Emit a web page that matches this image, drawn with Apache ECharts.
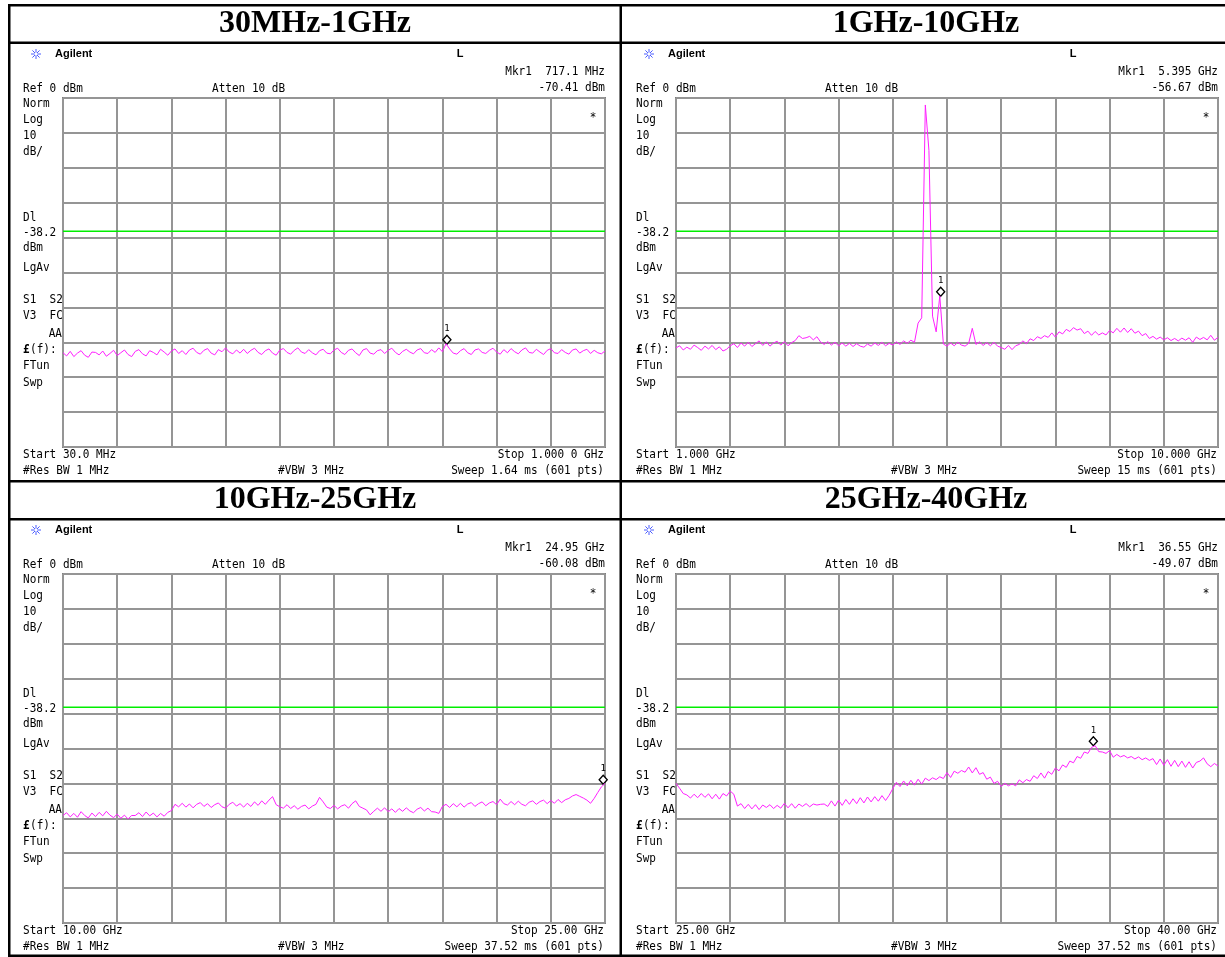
<!DOCTYPE html>
<html><head><meta charset="utf-8">
<script src="https://cdn.jsdelivr.net/npm/echarts@6/dist/echarts.min.js"></script>
<style>html,body{margin:0;padding:0;background:#fff}#c{width:1225px;height:957px}</style>
</head><body><div id="c"></div>
<script>
// ---------- data ----------
const titles = ['30MHz-1GHz', '1GHz-10GHz', '10GHz-25GHz', '25GHz-40GHz'];
const sweepStart = [30, 1, 10, 25];      // MHz for panel 1, GHz otherwise
const sweepStop = [1000, 10, 25, 40];
const markerFreq = [717.1, 5.395, 24.95, 36.55];
const markerLevel = [-70.41, -56.67, -60.08, -49.07];
const displayLine = -38.2;
const mkrLabels = ['Mkr1  717.1 MHz', 'Mkr1  5.395 GHz', 'Mkr1  24.95 GHz', 'Mkr1  36.55 GHz'];
const mkrLevelLabels = ['-70.41 dBm', '-56.67 dBm', '-60.08 dBm', '-49.07 dBm'];
const startLabels = ['Start 30.0 MHz', 'Start 1.000 GHz', 'Start 10.00 GHz', 'Start 25.00 GHz'];
const stopLabels = ['Stop 1.000 0 GHz', 'Stop 10.000 GHz', 'Stop 25.00 GHz', 'Stop 40.00 GHz'];
const sweepLabels = ['Sweep 1.64 ms (601 pts)', 'Sweep 15 ms (601 pts)', 'Sweep 37.52 ms (601 pts)', 'Sweep 37.52 ms (601 pts)'];

const trace1 = [
-73.0,-73.9,-72.6,-74.1,-73.1,-72.4,-73.7,-74.3,-72.8,-72.9,
-73.6,-72.5,-74.0,-73.2,-72.3,-73.8,-73.0,-72.2,-73.5,-74.1,
-72.6,-72.1,-73.3,-73.9,-72.4,-72.9,-73.6,-72.0,-72.8,-73.7,
-72.5,-71.9,-73.2,-72.4,-73.5,-72.2,-71.7,-72.9,-73.4,-72.3,
-71.8,-73.1,-73.6,-72.1,-72.7,-71.6,-72.8,-73.3,-72.2,-73.1,
-72.0,-73.2,-72.3,-71.7,-72.9,-73.5,-72.4,-71.9,-73.1,-73.7,
-72.2,-71.8,-72.9,-73.4,-72.3,-71.6,-72.8,-73.2,-72.1,-73.0,
-73.6,-72.4,-72.0,-73.1,-73.3,-72.2,-71.7,-72.9,-73.5,-72.3,
-71.9,-73.0,-73.8,-72.2,-71.8,-73.1,-73.4,-72.4,-72.1,-73.2,
-72.3,-71.7,-72.9,-73.6,-72.6,-72.0,-72.8,-73.3,-72.2,-71.8,
-73.0,-73.2,-72.1,-72.9,-71.6,-72.7,-70.4,-71.9,-73.1,-73.4,
-72.4,-71.8,-73.0,-73.5,-72.2,-71.9,-72.9,-73.2,-72.3,-71.7,
-72.8,-73.4,-72.1,-73.0,-71.8,-72.7,-73.3,-72.2,-71.6,-72.9,
-73.1,-72.0,-72.8,-73.5,-72.3,-71.8,-73.0,-73.2,-72.1,-72.9,
-73.4,-72.2,-71.9,-73.1,-72.4,-72.0,-73.2,-72.3,-73.0,-73.3,
-72.5];
const trace2 = [
-71.6,-71.0,-72.2,-71.4,-72.0,-70.8,-71.5,-72.3,-71.1,-71.9,
-70.9,-72.1,-71.3,-72.5,-72.0,-71.0,-70.4,-71.5,-70.2,-71.1,
-70.0,-71.2,-70.4,-69.6,-70.9,-69.9,-71.1,-70.2,-69.7,-70.8,
-69.8,-71.0,-70.1,-69.5,-68.1,-68.9,-68.7,-68.3,-69.3,-68.4,
-69.9,-70.6,-69.8,-70.8,-70.0,-71.0,-70.2,-71.1,-70.3,-71.2,
-70.4,-71.1,-71.4,-70.5,-71.1,-70.2,-70.9,-70.0,-71.0,-70.3,
-70.8,-69.9,-70.6,-69.6,-70.3,-69.4,-70.0,-64.5,-63.0,-2.0,
-15.0,-62.5,-67.0,-56.7,-70.5,-71.1,-70.2,-71.0,-70.0,-70.8,
-71.1,-70.3,-66.0,-70.6,-69.9,-70.9,-70.1,-71.0,-70.0,-71.1,
-71.5,-72.0,-70.9,-72.1,-71.0,-70.6,-69.6,-70.4,-69.0,-69.5,
-68.4,-68.9,-68.1,-68.6,-67.3,-68.5,-67.0,-67.6,-66.3,-66.9,
-65.8,-66.5,-66.1,-67.5,-66.8,-68.0,-66.9,-67.9,-67.3,-67.9,
-66.6,-67.3,-66.0,-67.1,-65.9,-67.2,-66.1,-67.4,-66.8,-68.1,
-67.5,-68.9,-68.3,-69.1,-68.5,-69.3,-68.7,-69.5,-68.9,-69.6,
-68.8,-69.4,-68.7,-70.0,-68.5,-69.2,-68.6,-69.3,-68.0,-69.4,
-68.6];
const trace3 = [
-69.2,-68.4,-69.6,-68.6,-69.7,-68.1,-69.2,-69.9,-68.5,-69.5,
-68.3,-69.3,-68.0,-69.1,-69.8,-68.8,-70.0,-69.1,-70.2,-69.2,
-69.2,-68.4,-69.5,-68.2,-69.3,-68.5,-69.6,-68.6,-69.4,-68.3,
-67.8,-66.0,-66.7,-65.7,-66.8,-65.9,-67.0,-66.0,-65.5,-66.6,
-65.8,-66.9,-66.1,-65.6,-66.7,-67.1,-66.0,-65.4,-66.5,-65.8,
-66.8,-65.7,-66.6,-65.3,-66.3,-65.0,-66.0,-64.8,-63.8,-66.1,
-66.7,-67.1,-66.1,-67.2,-66.4,-67.4,-66.6,-66.2,-67.3,-66.5,
-66.0,-64.0,-65.3,-66.8,-67.2,-66.3,-67.3,-66.5,-66.1,-67.1,
-65.8,-65.0,-66.6,-67.1,-67.6,-69.0,-68.0,-67.1,-68.0,-67.0,
-68.1,-67.3,-68.3,-67.2,-68.0,-67.0,-67.9,-68.4,-67.4,-66.9,
-67.9,-67.1,-68.1,-68.2,-68.6,-66.6,-66.0,-66.9,-65.8,-66.7,
-65.7,-66.8,-65.9,-65.5,-66.6,-65.8,-65.3,-66.4,-65.6,-65.2,
-66.1,-64.5,-65.8,-66.2,-65.2,-66.1,-65.1,-66.0,-66.4,-65.4,
-65.0,-66.0,-65.2,-64.8,-65.8,-64.9,-65.7,-64.6,-65.5,-64.7,
-64.3,-63.6,-63.2,-63.7,-64.2,-64.8,-65.7,-64.3,-62.6,-61.0,
-60.0];
const trace4 = [
-60.0,-61.4,-62.9,-63.3,-64.2,-63.1,-64.1,-62.9,-64.0,-63.0,
-64.4,-63.1,-64.5,-62.9,-63.6,-62.2,-63.1,-66.5,-65.8,-67.2,
-66.0,-67.3,-66.1,-67.5,-66.2,-66.9,-66.1,-67.2,-66.3,-67.1,
-65.7,-67.0,-65.8,-67.1,-65.9,-66.6,-65.8,-66.7,-65.9,-66.2,
-66.0,-65.9,-66.6,-65.0,-66.5,-64.8,-66.3,-64.6,-66.0,-64.4,
-65.8,-64.1,-65.6,-63.9,-65.3,-63.8,-65.1,-63.5,-64.9,-63.4,
-61.5,-59.7,-60.9,-59.3,-60.7,-59.1,-60.5,-58.8,-60.2,-58.5,
-59.2,-58.4,-58.9,-58.1,-58.6,-56.9,-58.3,-56.5,-57.1,-56.3,
-56.8,-55.3,-57.0,-55.5,-57.4,-56.9,-58.8,-58.2,-60.0,-59.4,
-60.9,-60.0,-60.7,-60.1,-60.7,-59.0,-59.8,-58.9,-59.4,-57.8,
-58.6,-57.0,-58.5,-56.6,-57.4,-55.6,-56.4,-54.7,-55.4,-53.6,
-54.1,-52.3,-52.8,-51.0,-51.4,-49.7,-49.2,-50.9,-51.0,-51.4,
-50.6,-52.5,-51.7,-52.4,-52.0,-52.7,-52.3,-53.0,-52.4,-53.2,
-52.7,-53.4,-52.9,-54.6,-53.0,-54.8,-53.2,-55.1,-53.4,-55.2,
-53.6,-55.4,-53.8,-55.6,-54.0,-53.6,-52.7,-54.4,-55.2,-54.3,
-55.0];
const traces = [trace1, trace2, trace3, trace4];

// ---------- layout ----------
const PX = [0, 613, 0, 613], PY = [0, 0, 476, 476];
const MONO = '12px "DejaVu Sans Mono", monospace';
const MONO_SX = 0.92;
const grids = [], xAxes = [], yAxes = [], series = [], graphic = [];

function txt(x, y, s, align, font, sx) {
  graphic.push({ type: 'text', x: x, y: y, silent: true, z: 10,
    scaleX: sx === undefined ? (font ? 1 : MONO_SX) : sx,
    style: { text: s, font: font || MONO, fill: '#000', align: align || 'left', verticalAlign: 'middle',
             textAlign: align || 'left', textVerticalAlign: 'middle' } });
}
function bar(x, y, w, h) {
  graphic.push({ type: 'rect', silent: true, z: 10, shape: { x: x, y: y, width: w, height: h }, style: { fill: '#000' } });
}
function star(cx, cy) {
  const r = 5;
  const segs = [[-r, 0, r, 0], [0, -r, 0, r], [-3.6, -3.6, 3.6, 3.6], [-3.6, 3.6, 3.6, -3.6]];
  segs.forEach(s => graphic.push({ type: 'line', silent: true, z: 10,
    shape: { x1: cx + s[0], y1: cy + s[1], x2: cx + s[2], y2: cy + s[3] },
    style: { stroke: '#4a5cff', lineWidth: 1 } }));
  graphic.push({ type: 'circle', silent: true, z: 11, shape: { cx: cx, cy: cy, r: 1.4 }, style: { fill: '#fff' } });
}

for (let k = 0; k < 4; k++) {
  const dx = PX[k], dy = PY[k];
  grids.push({ left: 63 + dx, top: 98 + dy, width: 542, height: 349, show: true,
    borderColor: '#7f7f7f', borderWidth: 2, backgroundColor: '#fff', outerBoundsMode: 'none', containLabel: false });
  xAxes.push({ type: 'value', gridIndex: k, min: 0, max: 10, interval: 1,
    axisLabel: { show: false }, axisTick: { show: false }, axisLine: { show: false },
    splitLine: { show: true, lineStyle: { color: '#959595', width: 2 } } });
  xAxes.push({ type: 'value', gridIndex: k, min: sweepStart[k], max: sweepStop[k], show: false,
    splitLine: { show: false } });
  yAxes.push({ type: 'value', gridIndex: k, min: -100, max: 0, interval: 10,
    axisLabel: { show: false }, axisTick: { show: false }, axisLine: { show: false },
    splitLine: { show: true, lineStyle: { color: '#959595', width: 2 } } });
  // display line (green)
  series.push({ type: 'line', xAxisIndex: 2 * k + 1, yAxisIndex: k, showSymbol: false, symbol: 'none',
    animation: false, silent: true, z: 4, lineStyle: { color: '#00ee00', width: 1.5 },
    data: [[sweepStart[k], displayLine], [sweepStop[k], displayLine]] });
  const tr = traces[k], n = tr.length, step = (sweepStop[k] - sweepStart[k]) / (n - 1);
  series.push({ type: 'line', xAxisIndex: 2 * k + 1, yAxisIndex: k, showSymbol: false, symbol: 'none',
    animation: false, silent: true, z: 5,
    lineStyle: { color: '#ff20ff', width: 1 },
    data: tr.map((v, i) => [sweepStart[k] + i * step, v]),
    markPoint: { silent: true, animation: false, symbol: 'diamond', symbolSize: [8, 9], symbolOffset: [0, -4],
      itemStyle: { color: '#fff', borderColor: '#000', borderWidth: 1.4 },
      label: { show: true, formatter: '1', position: 'top', distance: 1, color: '#000', fontSize: 9, fontFamily: 'DejaVu Sans Mono' },
      data: [{ coord: [markerFreq[k], markerLevel[k]] }] } });

  // titles
  txt((k % 2 ? 926 : 315), 24 + dy, titles[k], 'center', 'bold 32px "Liberation Serif", serif');
  // analyzer annotations
  star(36 + dx, 54 + dy);
  txt(55 + dx, 54 + dy, 'Agilent', 'left', 'bold 11px "Liberation Sans", Arial, sans-serif');
  txt(460 + dx, 54 + dy, 'L', 'center', 'bold 11px "Liberation Sans", Arial, sans-serif');
  txt(605 + dx, 72 + dy, mkrLabels[k], 'right');
  txt(605 + dx, 88 + dy, mkrLevelLabels[k], 'right');
  txt(23 + dx, 89 + dy, 'Ref 0 dBm');
  txt(212 + dx, 89 + dy, 'Atten 10 dB');
  txt(23 + dx, 104 + dy, 'Norm');
  txt(23 + dx, 120 + dy, 'Log');
  txt(23 + dx, 136 + dy, '10');
  txt(23 + dx, 152 + dy, 'dB/');
  txt(593 + dx, 118 + dy, '*', 'center');
  txt(23 + dx, 218 + dy, 'Dl');
  txt(23 + dx, 233 + dy, '-38.2');
  txt(23 + dx, 248 + dy, 'dBm');
  txt(23 + dx, 268 + dy, 'LgAv');
  txt(23 + dx, 300 + dy, 'S1  S2');
  txt(23 + dx, 316 + dy, 'V3  FC');
  txt(62 + dx, 334 + dy, 'AA', 'right');
  txt(23 + dx, 350 + dy, '£', 'left', 'bold 12px "DejaVu Sans Mono", monospace', MONO_SX);
  txt(30 + dx, 350 + dy, '(f):');
  txt(23 + dx, 366 + dy, 'FTun');
  txt(23 + dx, 383 + dy, 'Swp');
  txt(23 + dx, 455 + dy, startLabels[k]);
  txt(604 + dx, 455 + dy, stopLabels[k], 'right');
  txt(23 + dx, 471 + dy, '#Res BW 1 MHz');
  txt(278 + dx, 471 + dy, '#VBW 3 MHz');
  txt(604 + dx, 471 + dy, sweepLabels[k], 'right');
}

// table lines
bar(8, 4, 1217, 2.5);
bar(8, 41.5, 1217, 2.5);
bar(8, 480, 1217, 2.5);
bar(8, 518, 1217, 2.5);
bar(8, 954.5, 1217, 2.5);
bar(8, 4, 2.5, 953);
bar(619.5, 4, 2.5, 953);

const chart = echarts.init(document.getElementById('c'), null, { renderer: 'canvas' });
chart.setOption({ animation: false, backgroundColor: '#fff', grid: grids, xAxis: xAxes, yAxis: yAxes, series: series, graphic: graphic });
</script>
</body></html>
